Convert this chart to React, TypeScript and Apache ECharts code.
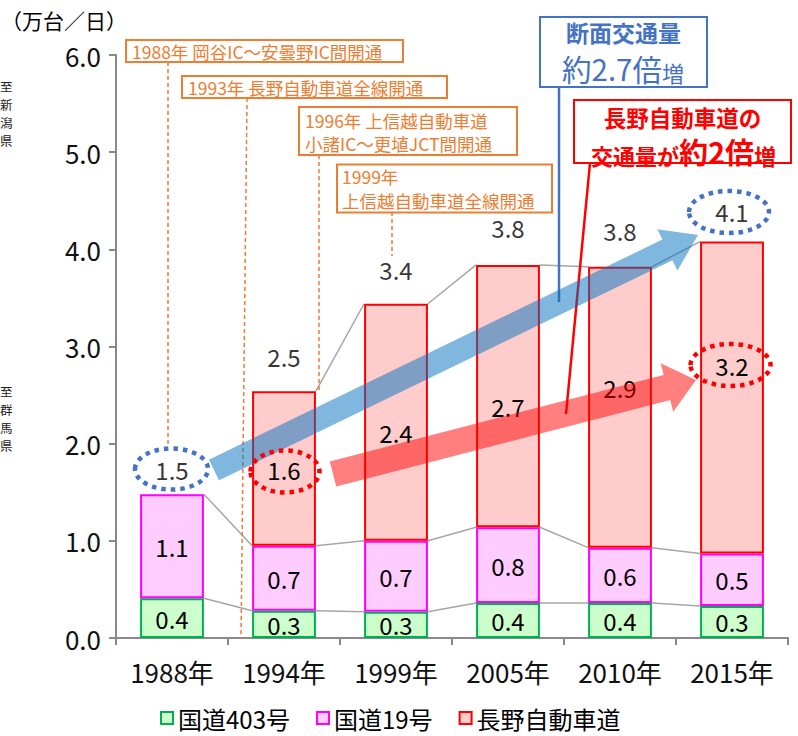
import React, { useEffect, useRef } from "react";
import * as echarts from "echarts";

// ---- data ----
const categories = ["1988年", "1994年", "1999年", "2005年", "2010年", "2015年"];
const seriesNames = ["国道403号", "国道19号", "長野自動車道"];
const route403 = [0.41, 0.28, 0.27, 0.36, 0.36, 0.33];
const route19 = [1.07, 0.67, 0.73, 0.78, 0.57, 0.54];
const expressway: (number | null)[] = [null, 1.59, 2.44, 2.7, 2.89, 3.21];

// label placement tweaks (pixels)
const expresswayLabelShift = [0, 1, 10, 10, -20, -32];
const totalLabelRise = [25, 35, 34, 37, 36, 30];

const FONT = '"Noto Sans CJK JP", "Noto Sans", sans-serif';
const BAR_RATIO = 0.57;
const fmt = (v: number) => (Math.round(v * 10) / 10).toFixed(1);

function arrowPoints(x1: number, y1: number, x2: number, y2: number, shaft: number, head: number, headLen: number) {
  const dx = x2 - x1, dy = y2 - y1;
  const L = Math.hypot(dx, dy);
  const ux = dx / L, uy = dy / L;
  const nx = -uy, ny = ux;
  const bx = x2 - ux * headLen, by = y2 - uy * headLen;
  const s = shaft / 2, h = head / 2;
  return [
    [x1 + nx * s, y1 + ny * s],
    [bx + nx * s, by + ny * s],
    [bx + nx * h, by + ny * h],
    [x2, y2],
    [bx - nx * h, by - ny * h],
    [bx - nx * s, by - ny * s],
    [x1 - nx * s, y1 - ny * s],
  ];
}

export default function App() {
  const ref = useRef<HTMLDivElement>(null);
  useEffect(() => {
    if (!ref.current) return;
    const chart = echarts.init(ref.current, null, { renderer: "svg" });

    const cum1 = route403.slice();
    const cum2 = route403.map((v, i) => v + route19[i]);
    const cum3 = cum2.map((v, i) => v + (expressway[i] ?? 0));
    const cums = [cum1, cum2, cum3];

    const orange = "#ED7D31";
    const blue = "#4472C4";
    const red = "#FF0000";

    const dashed = (x1: number, y1: number, x2: number, y2: number) => ({
      type: "line", z: 90, silent: true,
      shape: { x1, y1, x2, y2 },
      style: { stroke: orange, lineWidth: 1.5, lineDash: [4, 3] },
    });
    const box = (x: number, y: number, w: number, h: number, stroke: string) => ({
      type: "rect", z: 95, silent: true,
      shape: { x, y, width: w, height: h },
      style: { fill: "#fff", stroke, lineWidth: 2 },
    });
    const otext = (x: number, y: number, t: string) => ({
      type: "text", z: 96, silent: true, x, y,
      style: { text: t, fill: orange, fontSize: 17.5, fontFamily: FONT, align: "left", verticalAlign: "middle" },
    });
    const ellipse = (cx: number, cy: number, rx: number, ry: number, stroke: string) => ({
      type: "ellipse", z: 110, silent: true,
      shape: { cx, cy, rx, ry },
      style: { fill: "none", stroke, lineWidth: 4.5, lineDash: [4.5, 5] },
    });
    const vtext = (x: number, y0: number, step: number, t: string) =>
      Array.from(t).map((ch, k) => ({
        type: "text", z: 96, silent: true, x, y: y0 + k * step,
        style: { text: ch, fontSize: 12.5, fontFamily: FONT, fill: "#222", align: "left", verticalAlign: "middle" },
      }));
    const rtext = (x: number, y: number, rich: string, color: string, big: number, small: number, lh: number, bold: boolean) => ({
      type: "text", x, y, z: 98, silent: true,
      style: {
        text: rich, fontFamily: FONT, fill: color, align: "center", verticalAlign: "middle",
        rich: {
          a: { fontSize: big, fontWeight: bold ? "bold" : "normal", fontFamily: FONT, fill: color, color, verticalAlign: "bottom", lineHeight: lh },
          b: { fontSize: small, fontWeight: bold ? "bold" : "normal", fontFamily: FONT, fill: color, color, verticalAlign: "bottom", lineHeight: lh },
        },
      },
    });

    const graphic: any[] = [
      // unit & direction texts
      { type: "text", x: 1, y: 20, z: 96, style: { text: "（万台／日）", fontSize: 21, fontFamily: FONT, fill: "#000", align: "left", verticalAlign: "middle" } },
      ...vtext(0, 86, 18, "至新潟県"),
      ...vtext(0, 391, 18, "至群馬県"),

      // dashed leaders
      dashed(168, 62, 168, 446),
      dashed(247, 98, 241, 638),
      dashed(319, 155, 319, 390),
      dashed(392, 212, 392, 256),

      // orange boxes
      box(126, 40, 277, 22, orange),
      otext(132, 51, "1988年 岡谷IC～安曇野IC間開通"),
      box(182, 76, 265, 22, orange),
      otext(188, 87, "1993年 長野自動車道全線開通"),
      box(299, 107, 218, 48, orange),
      otext(305, 120, "1996年 上信越自動車道"),
      otext(305, 143.5, "小諸IC～更埴JCT間開通"),
      box(337, 164.5, 215, 48, orange),
      otext(342, 176.5, "1999年"),
      otext(342, 200, "上信越自動車道全線開通"),

      // connectors
      { type: "line", z: 97, silent: true, shape: { x1: 559, y1: 87, x2: 559, y2: 302 }, style: { stroke: blue, lineWidth: 2.5 } },
      { type: "line", z: 97, silent: true, shape: { x1: 590, y1: 163, x2: 566, y2: 414 }, style: { stroke: red, lineWidth: 2.5 } },

      // callout boxes
      box(540, 17, 167, 70, blue),
      { type: "text", x: 623.5, y: 31.5, z: 98, style: { text: "断面交通量", fontSize: 23, fontWeight: "bold", fontFamily: FONT, fill: blue, align: "center", verticalAlign: "middle" } },
      rtext(623, 68, "{a|約2.7倍}{b|増}", blue, 29.5, 22, 29, false),
      box(574, 100, 217, 63, red),
      { type: "text", x: 682.5, y: 117, z: 98, style: { text: "長野自動車道の", fontSize: 22.5, fontWeight: "bold", fontFamily: FONT, fill: red, align: "center", verticalAlign: "middle" } },
      rtext(683.5, 151, "{b|交通量が}{a|約2倍}{b|増}", red, 29, 22, 29, true),

      // arrows
      { type: "polygon", z: 100, silent: true, shape: { points: arrowPoints(214, 470, 698, 235, 23, 46, 34) }, style: { fill: "rgba(0,112,192,0.5)" } },
      { type: "polygon", z: 100, silent: true, shape: { points: arrowPoints(333, 474, 696, 380, 26, 50, 30) }, style: { fill: "rgba(255,0,0,0.5)" } },

      // dotted ellipses
      ellipse(171.5, 469, 36.5, 20.5, blue),
      ellipse(285, 471.5, 34.5, 21, red),
      ellipse(729, 212, 40, 21, blue),
      ellipse(730.5, 365, 40, 21, red),
    ];

    const labelBase = { show: true, fontSize: 24, color: "#000", fontFamily: FONT };

    chart.setOption({
      animation: false,
      textStyle: { fontFamily: FONT },
      grid: { left: 116, right: 10, top: 55, bottom: 98, containLabel: false },
      legend: {
        data: seriesNames,
        left: 160,
        top: 706,
        padding: 0,
        icon: "rect",
        itemWidth: 12,
        itemHeight: 12,
        itemGap: 26,
        textStyle: { fontSize: 24, color: "#000", fontFamily: FONT },
      },
      xAxis: {
        type: "category",
        data: categories,
        axisLine: { lineStyle: { color: "#898989", width: 2 } },
        axisTick: { show: true, length: 7, lineStyle: { color: "#898989", width: 2 } },
        axisLabel: { fontSize: 26, color: "#111", margin: 20, fontFamily: FONT },
      },
      yAxis: {
        type: "value",
        min: 0,
        max: 6,
        interval: 1,
        axisLine: { show: true, lineStyle: { color: "#898989", width: 2 } },
        axisTick: { show: true, length: 7, lineStyle: { color: "#898989", width: 2 } },
        splitLine: { show: false },
        axisLabel: { fontSize: 26, color: "#111", margin: 15, fontFamily: FONT, formatter: (v: number) => v.toFixed(1) },
      },
      series: [
        {
          name: seriesNames[0], type: "bar", stack: "t", barWidth: `${BAR_RATIO * 100}%`,
          data: route403,
          itemStyle: { color: "#CCFFCC", borderColor: "#00B050", borderWidth: 2 },
          label: { ...labelBase, position: "inside", formatter: (p: any) => fmt(p.value) },
        },
        {
          name: seriesNames[1], type: "bar", stack: "t", barWidth: `${BAR_RATIO * 100}%`,
          data: route19,
          itemStyle: { color: "#FFCCFF", borderColor: "#FF00FF", borderWidth: 2 },
          label: { ...labelBase, position: "inside", formatter: (p: any) => fmt(p.value) },
        },
        {
          name: seriesNames[2], type: "bar", stack: "t", barWidth: `${BAR_RATIO * 100}%`,
          data: expressway.map((v, i) => (v == null ? "-" : { value: v, label: { offset: [0, expresswayLabelShift[i]] } })),
          itemStyle: { color: "#FFCCCC", borderColor: "#FF0000", borderWidth: 2 },
          label: { ...labelBase, position: "inside", formatter: (p: any) => fmt(p.value) },
        },
        {
          name: "合計", type: "scatter", symbolSize: 0, silent: true, z: 5,
          data: cum3.map((v, i) => ({ value: v, label: { offset: [0, -totalLabelRise[i]] } })),
          label: { ...labelBase, position: "inside", formatter: (p: any) => fmt(p.value) },
        },
        {
          name: "系列線", type: "custom", silent: true, z: 1,
          data: categories.slice(0, categories.length - 1).map((_, i) => [i, 0]),
          encode: { x: 0, y: 1 },
          renderItem: (_params: any, api: any) => {
            const i = api.value(0) as number;
            const band = api.size([1, 0])[0];
            const hw = (band * BAR_RATIO) / 2;
            const children: any[] = [];
            for (let k = 0; k < 3; k++) {
              if (k === 2 && (expressway[i] == null || expressway[i + 1] == null)) continue;
              const a = api.coord([i, cums[k][i]]);
              const b = api.coord([i + 1, cums[k][i + 1]]);
              children.push({
                type: "line",
                shape: { x1: a[0] + hw, y1: a[1], x2: b[0] - hw, y2: b[1] },
                style: { stroke: "#A6A6A6", lineWidth: 1.5 },
              });
            }
            return { type: "group", children };
          },
        },
      ],
      graphic,
    });

    return () => chart.dispose();
  }, []);

  return <div ref={ref} style={{ position: "absolute", left: 0, top: 0, width: 798, height: 736, background: "#fff" }} />;
}
